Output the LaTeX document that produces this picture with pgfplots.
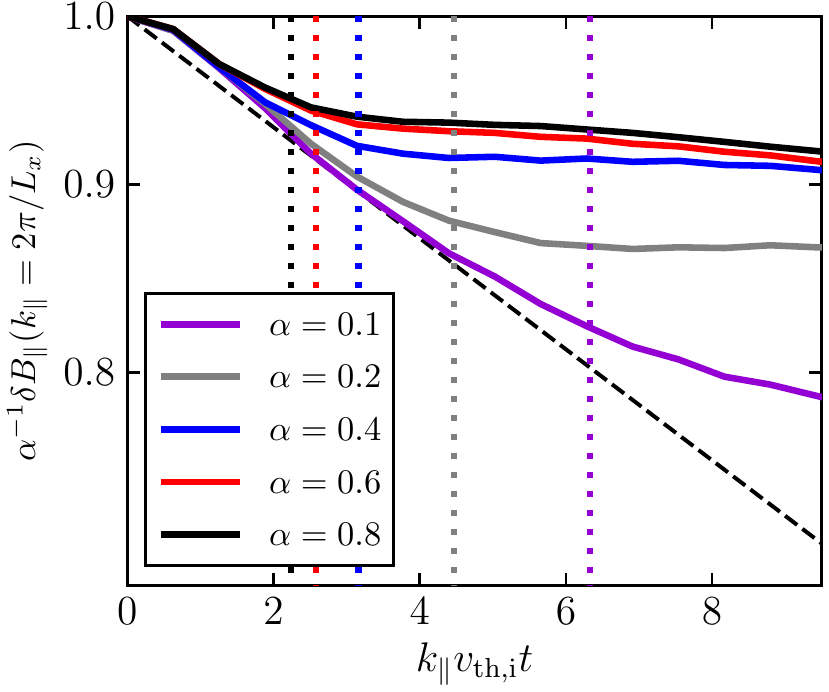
\documentclass[border=0pt]{standalone}
\usepackage{pgfplots}
\pgfplotsset{compat=1.18}
\definecolor{dviolet}{RGB}{148,0,211}
\definecolor{mgray}{RGB}{128,128,128}
\pgfplotstableread{
t      a01     a02     a04     a06     a08
0.000  1.0000  1.0000  1.0000  1.0000  1.0000
0.628  0.9910  0.9910  0.9915  0.9920  0.9920
1.257  0.9680  0.9685  0.9685  0.9705  0.9705
1.885  0.9440  0.9465  0.9475  0.9555  0.9563
2.513  0.9175  0.9232  0.9340  0.9426  0.9445
3.142  0.8970  0.9044  0.9220  0.9345  0.9390
3.770  0.8795  0.8902  0.9175  0.9320  0.9360
4.398  0.8620  0.8798  0.9150  0.9305  0.9355
5.027  0.8495  0.8735  0.9157  0.9295  0.9342
5.655  0.8350  0.8675  0.9135  0.9272  0.9335
6.283  0.8235  0.8660  0.9147  0.9262  0.9315
6.912  0.8130  0.8643  0.9128  0.9232  0.9295
7.540  0.8065  0.8652  0.9134  0.9217  0.9270
8.168  0.7980  0.8648  0.9110  0.9186  0.9243
8.796  0.7940  0.8663  0.9105  0.9165  0.9215
9.425  0.7885  0.8652  0.9083  0.9132  0.9190
10.053 0.7830  0.8650  0.9060  0.9100  0.9160
}\datatable
\begin{document}
\begin{tikzpicture}
\begin{axis}[
  scale only axis, width=201.3pt, height=165pt,
  xmin=0, xmax=9.5, ymin=0.7, ymax=1.0, ymode=log,
  xtick={0,2,4,6,8},
  ytick={0.8,0.9,1.0}, yticklabels={$0.8$,$0.9$,$1.0$},
  xminorticks=false, yminorticks=false,
  tick align=inside, major tick length=3.6pt,
  every tick/.style={black, line width=0.75pt},
  axis line style={line width=0.8pt},
  ticklabel style={font=\fontsize{11.5}{13}\selectfont},
  xlabel={$k_\| v_{\mathrm{th,i}}t$},
  xlabel style={font=\large, at={(axis description cs:0.5,-0.138)}, anchor=center},
  ylabel={$\alpha^{-1}\delta B_\|(k_\|=2\pi/L_x)$},
  ylabel style={at={(axis description cs:-0.144,0.5)}, anchor=center},
  legend style={at={(axis description cs:0.024,0.033)}, anchor=south west,
    draw=black, line width=0.9pt, fill=white, inner xsep=3.5pt, inner ysep=5.6pt,
    row sep=8.75pt,
    /tikz/every odd column/.append style={column sep=7.4pt},
    nodes={inner sep=0pt, text height=6.5pt, text depth=0pt}},
  legend cell align=left,
  legend image code/.code={\draw[#1, line width=2pt] (0pt,0pt) -- (22.9pt,0pt);},
]
\addplot[forget plot, black, line width=1.15pt, dash pattern=on 4.4pt off 1.9pt] coordinates {(0,1.0) (9.5,0.7186)};
\addplot[dviolet, line width=1.9pt, line join=round] table[x=t, y=a01] {\datatable};
\addlegendentry{$\alpha=0.1$}
\addplot[mgray, line width=1.9pt, line join=round] table[x=t, y=a02] {\datatable};
\addlegendentry{$\alpha=0.2$}
\addplot[blue, line width=1.9pt, line join=round] table[x=t, y=a04] {\datatable};
\addlegendentry{$\alpha=0.4$}
\addplot[red, line width=1.9pt, line join=round] table[x=t, y=a06] {\datatable};
\addlegendentry{$\alpha=0.6$}
\addplot[black, line width=1.9pt, line join=round] table[x=t, y=a08] {\datatable};
\addlegendentry{$\alpha=0.8$}
\addplot[forget plot, dviolet, line width=1.8pt, dash pattern=on 1.8pt off 3.7pt] coordinates {(6.3246,1.0) (6.3246,0.69)};
\addplot[forget plot, mgray, line width=1.8pt, dash pattern=on 1.8pt off 3.7pt] coordinates {(4.4721,1.0) (4.4721,0.69)};
\addplot[forget plot, blue, line width=1.8pt, dash pattern=on 1.8pt off 3.7pt] coordinates {(3.1623,1.0) (3.1623,0.69)};
\addplot[forget plot, red, line width=1.8pt, dash pattern=on 1.8pt off 3.7pt] coordinates {(2.5820,1.0) (2.5820,0.69)};
\addplot[forget plot, black, line width=1.8pt, dash pattern=on 1.8pt off 3.7pt] coordinates {(2.2361,1.0) (2.2361,0.69)};
\end{axis}
\pgfresetboundingbox
\path (current axis.south west) ++(-36.9pt,-30.7pt) coordinate (bbA);
\path (current axis.north east) ++(2.1pt,4.7pt) coordinate (bbB);
\path (bbA) rectangle (bbB);
\end{tikzpicture}
\end{document}
